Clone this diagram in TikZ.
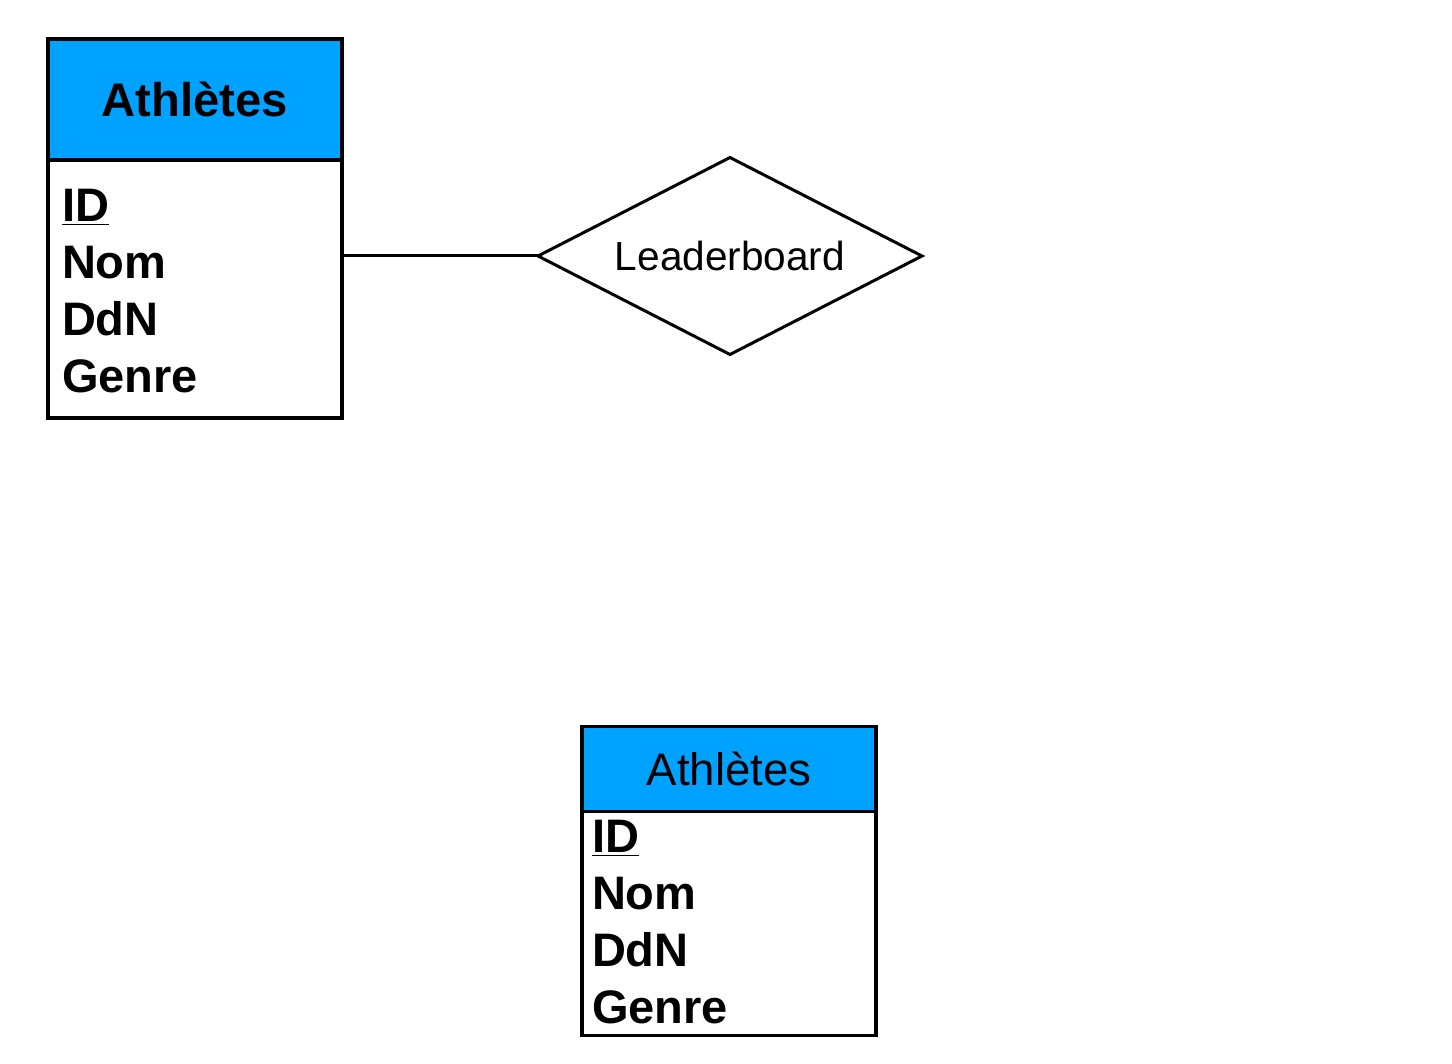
\documentclass[tikz,border=0pt]{standalone}
\usepackage{fontspec}
\setmainfont{Liberation Sans}
\usetikzlibrary{shapes.geometric,positioning}
\definecolor{headblue}{RGB}{0,162,255}
\begin{document}
\begin{tikzpicture}[x=0.5pt, y=-0.5pt, node distance=0pt, outer sep=0pt,
head node/.style={rectangle,draw,line width=1.9pt,fill=headblue,minimum width=147pt,inner sep=0pt},
body node/.style={rectangle,draw,line width=1.9pt,minimum width=147pt,inner sep=0pt},
attr node/.style={anchor=north west,align=left,inner sep=0pt,font=\fontsize{23.5}{28.5}\selectfont\bfseries},
rel node/.style={diamond,draw,line width=1.5pt,aspect=1.95,minimum width=192pt,minimum height=98.5pt,inner sep=0pt}]
\useasboundingbox (0,0) rectangle (1452,1064);
\begin{scope}
\node[head node,minimum height=60.5pt,font=\fontsize{23.6}{28}\selectfont\bfseries] (a1head) at (195,99.5) {Athlètes};%top
\node[body node,minimum height=129pt,below=of a1head] (a1body) {};
\node[attr node] (a1attr) at (62,189) {\underline{ID}\\Nom\\DdN\\Genre};
\node[head node,minimum height=42.5pt,font=\fontsize{22.8}{28}\selectfont] (a2head) at (729,769) {Athlètes};%bottom
\node[body node,minimum height=112pt,below=of a2head] (a2body) {};
\node[attr node] (a2attr) at (592,820) {\underline{ID}\\Nom\\DdN\\Genre};
\node[rel node,font=\fontsize{20.3}{24}\selectfont] (lb) at (730,256) {Leaderboard};%rel
\end{scope}
\begin{scope}[line width=1.5pt]
\draw (a1body.east |- lb.west) -- (lb.west);
\end{scope}
\end{tikzpicture}
\end{document}
